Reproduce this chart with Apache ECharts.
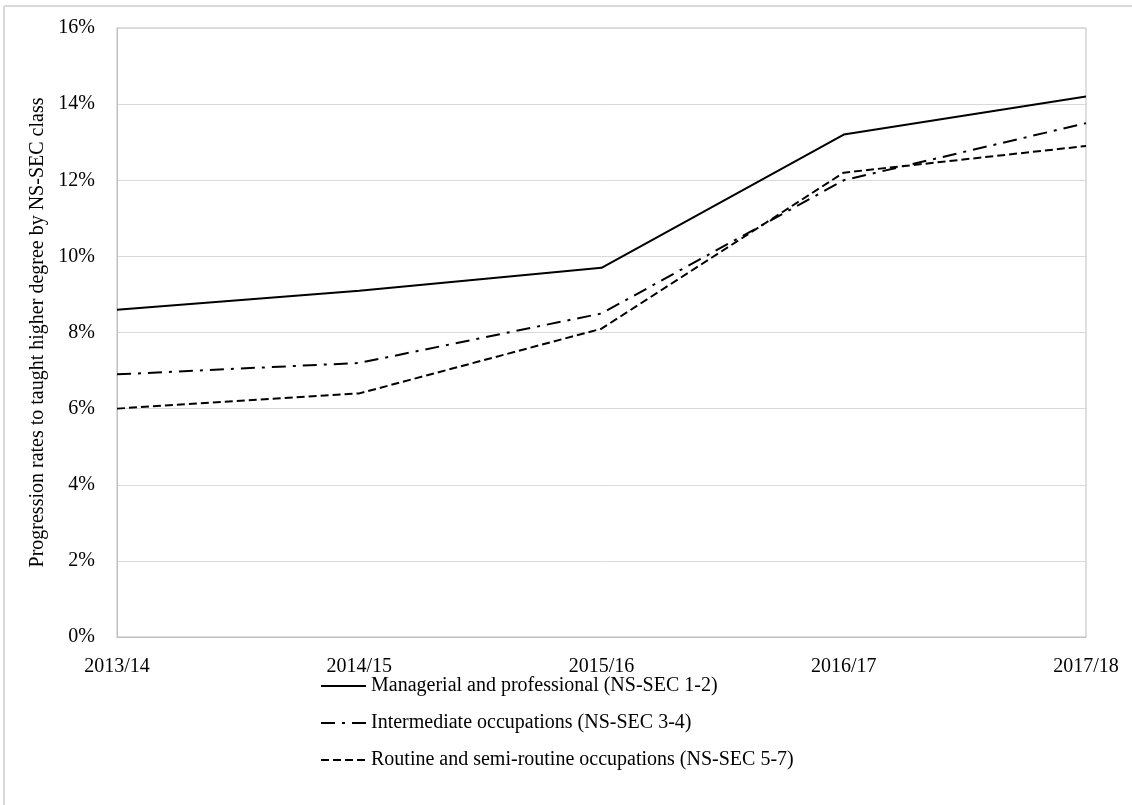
<!DOCTYPE html>
<html>
<head>
<meta charset="utf-8">
<script src="https://cdn.jsdelivr.net/npm/echarts@6/dist/echarts.min.js"></script>
<style>
html,body{margin:0;padding:0;background:#fff;}
#chart{width:1132px;height:805px;}
</style>
</head>
<body>
<div id="chart"></div>
<script>
const categories = ['2013/14', '2014/15', '2015/16', '2016/17', '2017/18'];
const managerial = [8.6, 9.1, 9.7, 13.2, 14.2];
const intermediate = [6.9, 7.2, 8.5, 12.0, 13.5];
const routine = [6.0, 6.4, 8.1, 12.2, 12.9];
const seriesNames = [
  'Managerial and professional (NS-SEC 1-2)',
  'Intermediate occupations (NS-SEC 3-4)',
  'Routine and semi-routine occupations (NS-SEC 5-7)'
];
const yAxisTitle = 'Progression rates to taught higher degree by NS-SEC class';

const FONT = '"Liberation Serif", "DejaVu Serif", serif';
const FS = 20;
const chart = echarts.init(document.getElementById('chart'));
chart.setOption({
  backgroundColor: '#fff',
  animation: false,
  textStyle: { fontFamily: FONT, color: '#000' },
  graphic: [
    { type: 'line', shape: { x1: 4, y1: 6, x2: 1132, y2: 6 }, style: { stroke: '#d9d9d9', lineWidth: 2 } },
    { type: 'line', shape: { x1: 4, y1: 6, x2: 4, y2: 805 }, style: { stroke: '#d9d9d9', lineWidth: 2 } }
  ],
  grid: { left: 117, right: 46, top: 28, bottom: 168, show: true, borderColor: '#bfbfbf', borderWidth: 1 },
  xAxis: {
    type: 'category',
    data: categories,
    boundaryGap: false,
    axisLine: { lineStyle: { color: '#bfbfbf' } },
    axisTick: { show: false },
    axisLabel: { fontFamily: FONT, fontSize: FS, color: '#000', margin: 20 },
    splitLine: { show: false }
  },
  yAxis: {
    type: 'value',
    min: 0, max: 16, interval: 2,
    name: yAxisTitle,
    nameLocation: 'middle',
    nameGap: 61,
    nameTextStyle: { fontFamily: FONT, fontSize: FS, color: '#000' },
    axisLine: { show: true, lineStyle: { color: '#bfbfbf' } },
    axisTick: { show: false },
    axisLabel: { fontFamily: FONT, fontSize: FS, color: '#000', margin: 22, formatter: v => v + '%' },
    splitLine: { lineStyle: { color: '#d9d9d9', width: 1 } }
  },
  legend: {
    orient: 'vertical',
    left: 315,
    top: 671,
    itemWidth: 45,
    itemHeight: 14,
    itemGap: 17,
    itemStyle: { color: 'transparent', borderColor: 'transparent', borderWidth: 0, opacity: 0 },
    textStyle: { fontFamily: FONT, fontSize: FS, color: '#000' },
    data: seriesNames
  },
  series: [
    { name: seriesNames[0], type: 'line', data: managerial, symbol: 'none', showSymbol: false,
      lineStyle: { color: '#000', width: 2, type: 'solid' }, itemStyle: { color: '#000' } },
    { name: seriesNames[1], type: 'line', data: intermediate, symbol: 'none', showSymbol: false,
      lineStyle: { color: '#000', width: 2, type: [14, 7, 3, 7] }, itemStyle: { color: '#000' } },
    { name: seriesNames[2], type: 'line', data: routine, symbol: 'none', showSymbol: false,
      lineStyle: { color: '#000', width: 2, type: [8, 4] }, itemStyle: { color: '#000' } }
  ]
});
</script>
</body>
</html>
